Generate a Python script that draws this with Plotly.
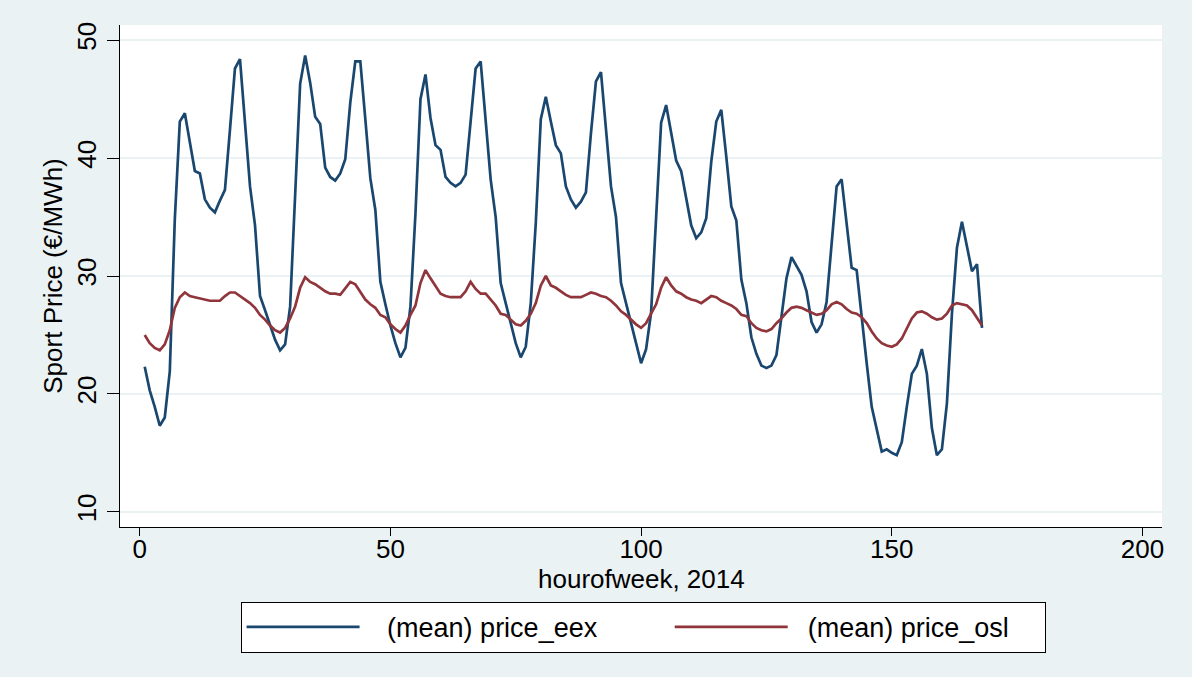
import plotly.graph_objects as go

hours = list(range(1, 169))

price_eex = [
    22.3, 20.3, 18.9, 17.3, 18.0, 21.9, 34.8, 43.1, 43.8, 41.3,
    38.9, 38.7, 36.5, 35.8, 35.4, 36.4, 37.3, 42.4, 47.6, 48.4,
    43.3, 37.6, 34.3, 28.3, 27.1, 25.8, 24.6, 23.7, 24.2, 27.4,
    36.5, 46.3, 48.7, 46.4, 43.5, 42.9, 39.2, 38.4, 38.1, 38.7,
    39.9, 44.7, 48.2, 48.2, 43.3, 38.3, 35.6, 29.5, 27.6, 25.8,
    24.3, 23.1, 23.9, 27.4, 35.3, 45.0, 47.1, 43.4, 41.1, 40.7,
    38.4, 37.9, 37.6, 37.9, 38.6, 43.3, 47.6, 48.2, 43.0, 38.2,
    35.0, 29.4, 27.7, 26.0, 24.3, 23.1, 24.0, 27.7, 34.5, 43.3,
    45.2, 43.1, 41.1, 40.4, 37.6, 36.5, 35.8, 36.3, 37.1, 42.1,
    46.5, 47.3, 42.7, 37.6, 35.0, 29.4, 27.7, 26.1, 24.3, 22.6,
    23.8, 26.9, 35.0, 43.0, 44.5, 42.1, 39.8, 38.9, 36.6, 34.3,
    33.2, 33.7, 34.9, 39.7, 43.1, 44.1, 40.1, 35.9, 34.7, 29.7,
    27.7, 24.8, 23.4, 22.4, 22.2, 22.4, 23.3, 26.4, 29.8, 31.6,
    30.9, 30.1, 28.7, 26.1, 25.2, 25.9, 27.8, 33.1, 37.6, 38.2,
    34.3, 30.7, 30.5, 26.3, 22.6, 18.9, 17.1, 15.1, 15.3, 15.0,
    14.8, 15.9, 18.9, 21.7, 22.4, 23.8, 21.7, 17.1, 14.8, 15.3,
    19.2, 26.8, 32.4, 34.6, 32.5, 30.4, 31.0, 25.6,
]

price_osl = [
    25.0, 24.3, 23.9, 23.7, 24.2, 25.4, 27.3, 28.2, 28.6, 28.3,
    28.2, 28.1, 28.0, 27.9, 27.9, 27.9, 28.3, 28.6, 28.6, 28.3,
    28.0, 27.7, 27.3, 26.7, 26.3, 25.8, 25.4, 25.2, 25.6, 26.4,
    27.4, 29.0, 29.9, 29.5, 29.3, 29.0, 28.7, 28.5, 28.5, 28.4,
    29.0, 29.5, 29.3, 28.6, 28.0, 27.6, 27.3, 26.7, 26.5, 25.9,
    25.5, 25.2, 25.8, 26.7, 27.5, 29.4, 30.5, 29.8, 29.2, 28.5,
    28.3, 28.2, 28.2, 28.2, 28.7, 29.5, 28.9, 28.5, 28.5, 28.0,
    27.5, 26.8, 26.7, 26.3, 25.9, 25.8, 26.2, 26.8, 27.7, 29.2,
    30.0, 29.2, 29.0, 28.7, 28.4, 28.2, 28.2, 28.2, 28.4, 28.6,
    28.5, 28.3, 28.2, 27.9, 27.5, 27.0, 26.7, 26.3, 25.9, 25.6,
    26.0, 26.8, 27.6, 29.0, 29.9, 29.2, 28.7, 28.5, 28.2, 28.0,
    27.9, 27.7, 28.0, 28.3, 28.2, 27.9, 27.7, 27.5, 27.2, 26.7,
    26.6, 26.0, 25.6, 25.4, 25.3, 25.5, 26.0, 26.4, 26.9, 27.3,
    27.4, 27.3, 27.1, 26.9, 26.7, 26.8, 27.1, 27.6, 27.8, 27.6,
    27.2, 26.9, 26.8, 26.5, 26.0, 25.3, 24.7, 24.3, 24.1, 24.0,
    24.2, 24.7, 25.5, 26.4, 26.9, 27.0, 26.8, 26.5, 26.3, 26.4,
    26.8, 27.5, 27.7, 27.6, 27.5, 27.1, 26.5, 25.8,
]

x_ticks = [0, 50, 100, 150, 200]
y_ticks = [10, 20, 30, 40, 50]
series_names = ["(mean) price_eex", "(mean) price_osl"]
x_title = "hourofweek, 2014"
y_title = "Sport Price (€/MWh)"

FONT = "Liberation Sans, Arial, sans-serif"
BG = "#EAF2F3"
FS = 26
NB = "\u00a0"

fig = go.Figure()
fig.add_trace(go.Scatter(x=hours, y=price_eex, mode="lines",
                         name=NB * 3 + series_names[0] + NB * 9,
                         line=dict(color="#1A476F", width=2.7)))
fig.add_trace(go.Scatter(x=hours, y=price_osl, mode="lines",
                         name=NB * 2 + series_names[1] + NB * 4,
                         line=dict(color="#90353B", width=2.7)))

fig.update_layout(
    width=1192, height=677,
    margin=dict(l=120, r=30, t=25, b=150, autoexpand=False),
    paper_bgcolor=BG,
    plot_bgcolor="white",
    font=dict(family=FONT, size=FS, color="black"),
    showlegend=True,
    legend=dict(
        orientation="h",
        x=0.502, xanchor="center",
        y=-0.149, yanchor="top",
        bgcolor="white", bordercolor="black", borderwidth=1,
        font=dict(family=FONT, size=27, color="black"),
        itemwidth=113,
        tracegroupgap=0,
    ),
    xaxis=dict(
        range=[-3.93, 203.9],
        automargin=False,
        tickvals=x_ticks, ticktext=[str(v) for v in x_ticks],
        showgrid=False, zeroline=False,
        showline=True, linecolor="black", linewidth=1.3,
        ticks="outside", ticklen=8, tickwidth=1.3, tickcolor="black",
        ticklabelstandoff=-9,
        tickfont=dict(family=FONT, size=FS),
    ),
    yaxis=dict(
        range=[8.71, 51.29],
        automargin=False,
        tickvals=y_ticks, ticktext=[str(v) for v in y_ticks],
        showgrid=True, gridcolor=BG, gridwidth=2,
        zeroline=False,
        showline=True, linecolor="black", linewidth=1.3,
        ticks="outside", ticklen=12, tickwidth=1.3, tickcolor="black",
        tickangle=-90,
        tickfont=dict(family=FONT, size=FS),
        title=dict(text=y_title, font=dict(family=FONT, size=FS), standoff=2),
    ),
    annotations=[
        dict(text=x_title, xref="paper", yref="paper", x=0.5, y=-0.104,
             xanchor="center", yanchor="middle", showarrow=False,
             font=dict(family=FONT, size=FS, color="black")),
    ],
)

fig.write_html("out.html", config={"displayModeBar": False},
               post_script="document.body.style.margin='0';document.body.style.overflow='hidden';")
